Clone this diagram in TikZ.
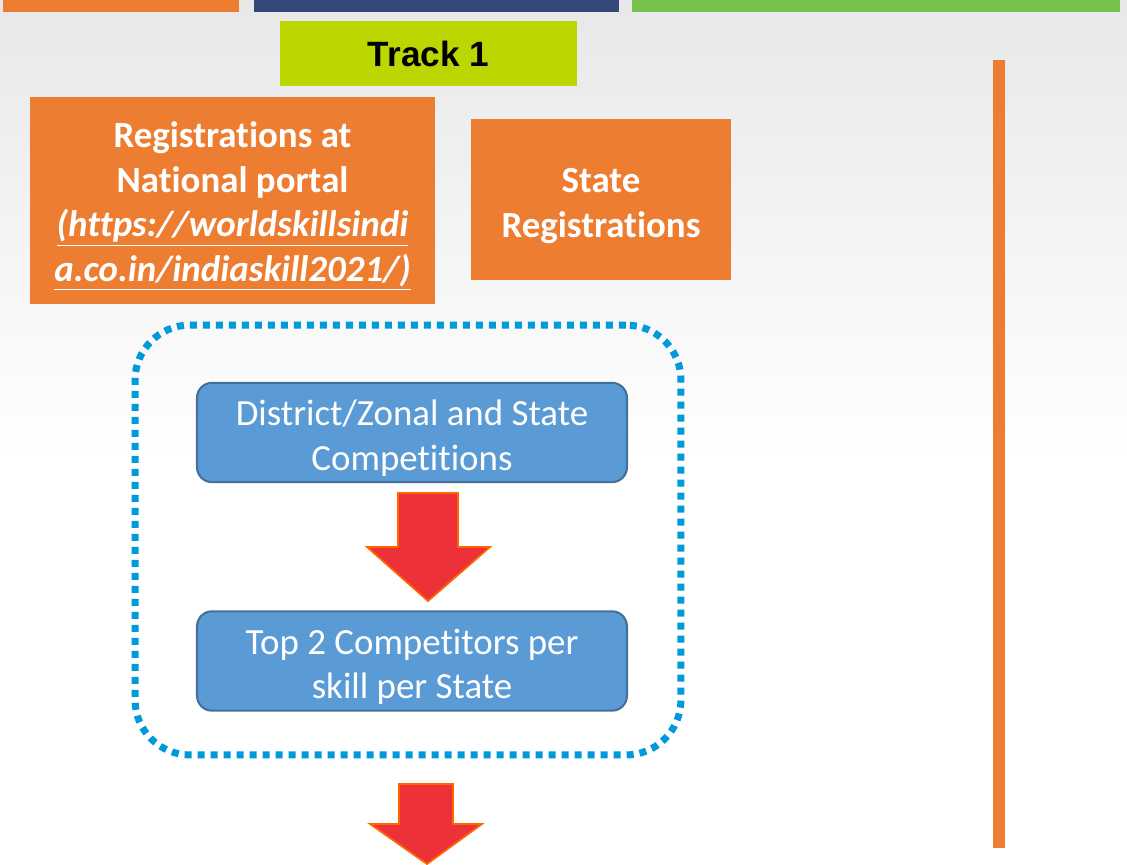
\documentclass[tikz,border=0pt]{standalone}
\usepackage{fontspec}
\setmainfont{Carlito}[Ligatures = NoCommon]
\newfontfamily\arialfont{Liberation Sans}
\usepackage{tikz}
\usetikzlibrary{positioning,shapes}

\definecolor{regorange}{RGB}{237,125,49}
\definecolor{barnavy}{RGB}{52,73,120}
\definecolor{bargreen}{RGB}{120,193,76}
\definecolor{tracklime}{RGB}{187,214,0}
\definecolor{stepblue}{RGB}{91,155,213}
\definecolor{stepedge}{RGB}{65,113,156}
\definecolor{dotblue}{RGB}{0,153,218}
\definecolor{arrowred}{RGB}{236,50,56}
\definecolor{arrowedge}{RGB}{255,102,0}
\newcommand{\boxstrut}{\rule{0pt}{1em}}

\begin{document}
\begin{tikzpicture}[x = .02cm, y = -.02cm,
    regbox/.style = {fill = regorange, inner sep = 0pt, text = white, align = center,
        font = \fontsize{21}{25.5}\selectfont\bfseries},
    stagebox/.style = {fill = stepblue, draw = stepedge, line width = 1.2pt, rounded corners = .3cm,
        minimum width = 8.6cm, minimum height = 1.93cm, text = white, align = center,
        font = \fontsize{21}{25.5}\selectfont},
    blockarrow/.style = {fill = arrowred, draw = arrowedge, line width = 1pt}]
    \useasboundingbox (0,0) rectangle (1127,865);
    \fill[top color = black!9, bottom color = white] (0,0) rectangle (1127,460);
    % bars along the top
    \fill[regorange] (3,0) rectangle (239,12);
    \fill[barnavy] (254,0) rectangle (619,12);
    \fill[bargreen] (632,0) rectangle (1120,12);
    \node[fill = tracklime, minimum width = 5.94cm, minimum height = 1.3cm, inner sep = 0pt,
        font = \arialfont\fontsize{20}{24}\selectfont\bfseries] (track) at (428.5,53.5) {Track 1};
    \node[regbox, minimum width = 8.1cm, minimum height = 4.14cm] (natl) at (232.5,200.5)
        {\boxstrut Registrations at\\National portal\\\underline{\textit{(https://worldskillsindi}}\\\underline{\textit{a.co.in/indiaskill2021/)}}};
    \node[regbox, minimum width = 5.2cm, minimum height = 3.22cm] (statereg) at (601,199.5) {\boxstrut State\\Registrations};
    \node[draw = dotblue, line width = 4pt, dash pattern = on 4pt off 3.4pt, rounded corners = 1.1cm,
        minimum width = 10.92cm, minimum height = 8.6cm] (statelevel) at (408,540) {};
    \node[stagebox] (district) at (412,432.5) {\boxstrut District/Zonal and State\\Competitions};
    \node[stagebox] (top2) at (412,661) {\boxstrut Top 2 Competitors per\\skill per State};
    \draw[blockarrow] (398,493) -- (458,493) -- (458,547) -- (490,547) -- (428,601)
        -- (367,547) -- (398,547) -- cycle;
    \draw[blockarrow] (399,784) -- (453,784) -- (453,824) -- (482,824) -- (427,864)
        -- (370,824) -- (399,824) -- cycle;
    \fill[regorange] (993,60) rectangle (1005,848);
\end{tikzpicture}
\end{document}
